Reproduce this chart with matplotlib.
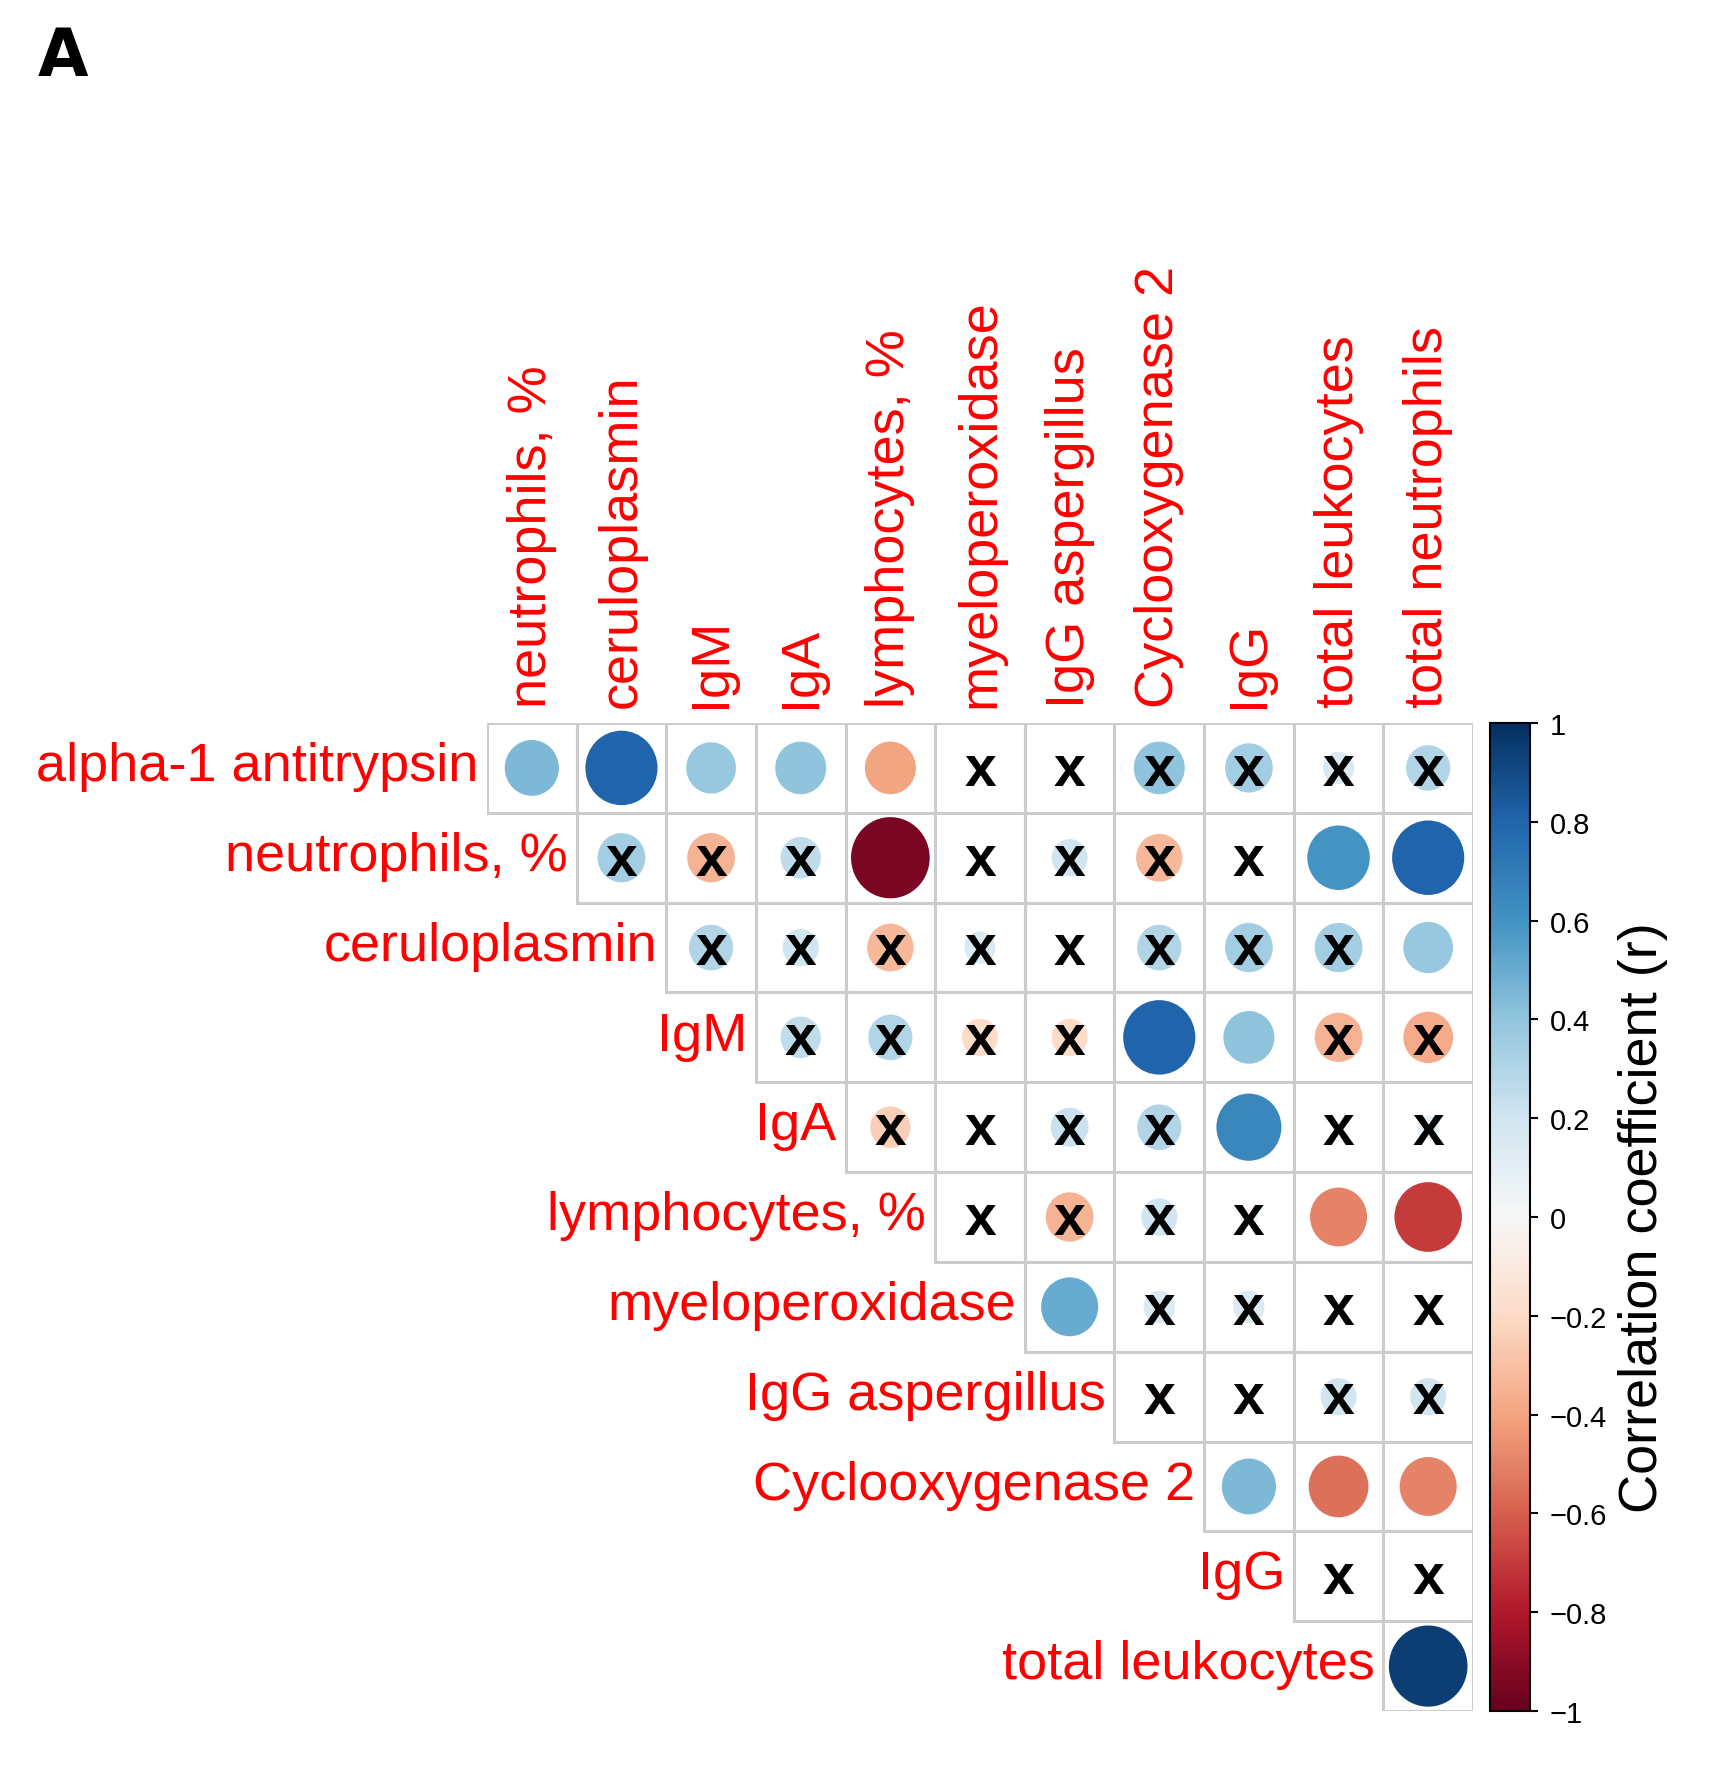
import numpy as np
import matplotlib
matplotlib.use("Agg")
import matplotlib.pyplot as plt
from matplotlib.patches import Ellipse, Rectangle
import matplotlib.colors as mcolors

plt.rcParams['font.family'] = ['Liberation Sans', 'DejaVu Sans']

# row / column variables (upper triangle, no diagonal)
row_labels = ['alpha-1 antitrypsin', 'neutrophils, %', 'ceruloplasmin', 'IgM', 'IgA',
              'lymphocytes, %', 'myeloperoxidase', 'IgG aspergillus', 'Cyclooxygenase 2',
              'IgG', 'total leukocytes']
col_labels = ['neutrophils, %', 'ceruloplasmin', 'IgM', 'IgA', 'lymphocytes, %',
              'myeloperoxidase', 'IgG aspergillus', 'Cyclooxygenase 2', 'IgG',
              'total leukocytes', 'total neutrophils']

# correlation values, row i holds columns i..10
r_alpha = [0.45, 0.80, 0.38, 0.40, -0.40, 0.04, 0.02, 0.40, 0.35, 0.15, 0.30]
r_neutp = [0.35, -0.35, 0.25, -0.95, 0.01, 0.20, -0.33, -0.03, 0.60, 0.80]
r_cerul = [0.30, 0.20, -0.33, 0.15, 0.05, 0.30, 0.35, 0.35, 0.38]
r_igm = [0.25, 0.30, -0.20, -0.20, 0.80, 0.40, -0.35, -0.38]
r_iga = [-0.25, 0.01, 0.22, 0.30, 0.65, 0.00, 0.08]
r_lymph = [0.01, -0.35, 0.20, -0.05, -0.50, -0.70]
r_mpo = [0.50, 0.15, 0.15, -0.02, 0.01]
r_iggasp = [-0.05, 0.01, 0.20, 0.20]
r_cox = [0.45, -0.55, -0.50]
r_igg = [0.01, 0.03]
r_leuk = [0.95]

# 1 = not significant (marked with x)
ns_alpha = [0, 0, 0, 0, 0, 1, 1, 1, 1, 1, 1]
ns_neutp = [1, 1, 1, 0, 1, 1, 1, 1, 0, 0]
ns_cerul = [1, 1, 1, 1, 1, 1, 1, 1, 0]
ns_igm = [1, 1, 1, 1, 0, 0, 1, 1]
ns_iga = [1, 1, 1, 1, 0, 1, 1]
ns_lymph = [1, 1, 1, 1, 0, 0]
ns_mpo = [0, 1, 1, 1, 1]
ns_iggasp = [1, 1, 1, 1]
ns_cox = [0, 0, 0]
ns_igg = [1, 1]
ns_leuk = [0]

r_rows = [r_alpha, r_neutp, r_cerul, r_igm, r_iga, r_lymph, r_mpo, r_iggasp, r_cox, r_igg, r_leuk]
ns_rows = [ns_alpha, ns_neutp, ns_cerul, ns_igm, ns_iga, ns_lymph, ns_mpo, ns_iggasp, ns_cox, ns_igg, ns_leuk]

cmap = plt.get_cmap('RdBu')
norm = mcolors.Normalize(-1, 1)
n = len(col_labels)

fig = plt.figure(figsize=(17.24, 17.9), dpi=100)
W, H = 1724, 1790
gx0, gx1, gy0, gy1 = 487, 1473, 724, 1712
ax = fig.add_axes([gx0 / W, 1 - gy1 / H, (gx1 - gx0) / W, (gy1 - gy0) / H])
ax.set_xlim(0, n)
ax.set_ylim(n, 0)
ax.axis('off')

for i, (vals, nss) in enumerate(zip(r_rows, ns_rows)):
    for k, (v, s) in enumerate(zip(vals, nss)):
        j = i + k
        ax.add_patch(Rectangle((j, i), 1, 1, facecolor='white', edgecolor='#cccccc',
                               linewidth=2.2, zorder=1))
        d = 0.9 * np.sqrt(abs(v))
        ax.add_patch(Ellipse((j + 0.5, i + 0.5), d, d * 1.03, facecolor=cmap(norm(v)),
                             edgecolor='none', zorder=2))
        if s:
            ax.text(j + 0.5, i + 0.52, 'x', fontsize=41, fontweight='bold', color='black',
                    ha='center', va='center', zorder=3)
    ax.text(i - 0.1, i + 0.48, row_labels[i], color='red', fontsize=39, ha='right',
            va='center', clip_on=False)

for j, lab in enumerate(col_labels):
    ax.text(j + 0.5, -0.18, lab, color='red', fontsize=39, rotation=90, ha='center',
            va='bottom', clip_on=False)

# colour bar
cax = fig.add_axes([1490 / W, 1 - gy1 / H, 40 / W, (gy1 - gy0) / H])
sm = plt.cm.ScalarMappable(norm=norm, cmap=cmap)
cb = fig.colorbar(sm, cax=cax)
ticks = [-1, -0.8, -0.6, -0.4, -0.2, 0, 0.2, 0.4, 0.6, 0.8, 1]
tick_labels = ['\u22121', '\u22120.8', '\u22120.6', '\u22120.4', '\u22120.2', '0',
               '0.2', '0.4', '0.6', '0.8', '1']
cb.set_ticks(ticks)
cb.set_ticklabels(tick_labels)
cb.ax.tick_params(labelsize=21, length=6, width=1.5, pad=8)
cb.outline.set_linewidth(1.5)
cb.set_label('Correlation coefficient (r)', fontsize=39, labelpad=8)

fig.text(38 / W, 1 - 76 / H, 'A', fontsize=47, fontweight='bold', family='DejaVu Sans')

fig.savefig('out.png', dpi=100)
